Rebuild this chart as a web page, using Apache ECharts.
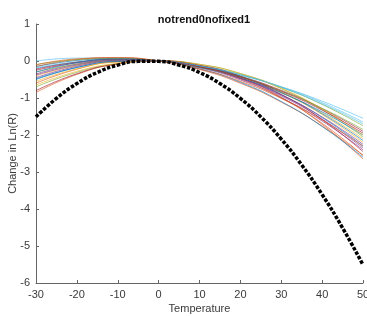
<!DOCTYPE html>
<html>
<head>
<meta charset="utf-8">
<script src="https://cdn.jsdelivr.net/npm/echarts@6/dist/echarts.min.js"></script>
<style>
html,body{margin:0;padding:0;background:#fff;}
#chart{width:367px;height:316px;}
</style>
</head>
<body>
<div id="chart"></div>
<script>
const titleText = "notrend0nofixed1";
const xName = "Temperature";
const yName = "Change in Ln(R)";

// temperatures at which the thin bootstrap curves were read
const curveTemps = [-30, -20, -10, 0, 10, 20, 30, 40, 50];
// thin curves
const bootstrapCurves = [
  [-0.500, -0.177, -0.010, 0, -0.147, -0.450, -0.910, -1.527, -2.30],
  [-0.850, -0.363, -0.080, 0, -0.123, -0.450, -0.980, -1.713, -2.65],
  [-0.400, -0.128,  0.005, 0, -0.143, -0.425, -0.845, -1.403, -2.10],
  [-0.350, -0.084,  0.033, 0, -0.182, -0.513, -0.992, -1.622, -2.40],
  [-0.700, -0.306, -0.073, 0, -0.088, -0.338, -0.748, -1.318, -2.05],
  [ 0.000,  0.078,  0.078, 0, -0.155, -0.388, -0.698, -1.085, -1.55],
  [-0.250, -0.051,  0.032, 0, -0.148, -0.413, -0.793, -1.288, -1.90],
  [-0.150,  0.013,  0.063, 0, -0.175, -0.463, -0.863, -1.375, -2.00],
  [-0.600, -0.223, -0.023, 0, -0.155, -0.488, -0.998, -1.685, -2.55],
  [-0.550, -0.211, -0.028, 0, -0.128, -0.413, -0.853, -1.448, -2.20],
  [-0.450, -0.145,  0.005, 0, -0.160, -0.475, -0.945, -1.570, -2.35],
  [-0.300, -0.088,  0.013, 0, -0.125, -0.363, -0.713, -1.175, -1.75],
  [-0.200, -0.032,  0.035, 0, -0.137, -0.375, -0.715, -1.157, -1.70],
  [-0.800, -0.344, -0.078, 0, -0.112, -0.413, -0.903, -1.582, -2.45],
  [-0.480, -0.173, -0.013, 0, -0.135, -0.418, -0.848, -1.425, -2.15],
  [-0.150,  0.040,  0.090, 0, -0.230, -0.600, -1.110, -1.760, -2.55],
  [-0.650, -0.279, -0.063, 0, -0.092, -0.338, -0.738, -1.292, -2.00],
  [-0.380, -0.109,  0.018, 0, -0.162, -0.468, -0.918, -1.512, -2.25],
  [-0.100,  0.034,  0.068, 0, -0.168, -0.438, -0.808, -1.278, -1.85],
  [-0.180, -0.023,  0.038, 0, -0.135, -0.368, -0.698, -1.125, -1.65],
  [-0.220, -0.031,  0.043, 0, -0.158, -0.433, -0.820, -1.328, -1.95],
  [-0.300, -0.045,  0.055, 0, -0.210, -0.575, -1.095, -1.770, -2.60],
  [-0.100,  0.057,  0.090, 0, -0.213, -0.550, -1.010, -1.593, -2.30]
];

// thick dotted curve
const meanTemps = [-30, -25, -20, -15, -10, -5, 0, 5, 10, 15, 20, 25, 30, 35, 40, 45, 50];
const meanCurve = [-1.51, -1.01, -0.61, -0.31, -0.11, -0.01, -0.01, -0.11, -0.31, -0.61, -1.01, -1.51, -2.11, -2.81, -3.61, -4.51, -5.51];

const xTicks = [-30, -20, -10, 0, 10, 20, 30, 40, 50];
const yTicks = [-6, -5, -4, -3, -2, -1, 0, 1];

const palette = ['#0072BD', '#D95319', '#EDB120', '#7E2F8E', '#77AC30', '#4DBEEE', '#A2142F'];

const series = bootstrapCurves.map((vals, i) => ({
  type: 'line',
  data: curveTemps.map((t, j) => [t, vals[j]]),
  smooth: true,
  symbol: 'none',
  silent: true,
  lineStyle: { width: 0.9, color: palette[i % palette.length], opacity: 0.7 },
  z: 2
}));
series.push({
  type: 'line',
  data: meanTemps.map((t, j) => [t, meanCurve[j]]),
  smooth: true,
  symbol: 'none',
  silent: true,
  lineStyle: { width: 3.5, color: '#000', type: [3.5, 1.6], cap: 'butt' },
  z: 3
});

const chart = echarts.init(document.getElementById('chart'), null, { renderer: 'canvas' });
const axisText = { color: '#3a3a3a', fontFamily: 'Liberation Sans, Arial, sans-serif', fontSize: 11 };
chart.setOption({
  animation: false,
  backgroundColor: '#fff',
  title: {
    text: titleText, left: 199, top: 9, textAlign: 'center',
    textStyle: { fontFamily: 'Liberation Sans, Arial, sans-serif', fontSize: 11, fontWeight: 'bold', color: '#111' }
  },
  grid: { left: 36, right: 4, top: 24, bottom: 33, containLabel: false, outerBoundsMode: 'none' },
  xAxis: {
    type: 'value', min: xTicks[0], max: xTicks[xTicks.length - 1], interval: 10,
    name: xName, nameLocation: 'middle', nameGap: 20, nameMoveOverlap: false,
    nameTextStyle: axisText,
    axisLine: { onZero: false, lineStyle: { color: '#666', width: 1 } },
    axisTick: { inside: true, length: 3, lineStyle: { color: '#666' } },
    axisLabel: Object.assign({ margin: 6 }, axisText),
    splitLine: { show: false }
  },
  yAxis: {
    type: 'value', min: yTicks[0], max: yTicks[yTicks.length - 1], interval: 1,
    name: yName, nameLocation: 'middle', nameGap: 18, nameRotate: 90, nameMoveOverlap: false,
    nameTextStyle: axisText,
    axisLine: { show: true, onZero: false, lineStyle: { color: '#666', width: 1 } },
    axisTick: { show: true, inside: true, length: 3, lineStyle: { color: '#666' } },
    axisLabel: Object.assign({ margin: 6 }, axisText),
    splitLine: { show: false }
  },
  series: series
});
</script>
</body>
</html>
